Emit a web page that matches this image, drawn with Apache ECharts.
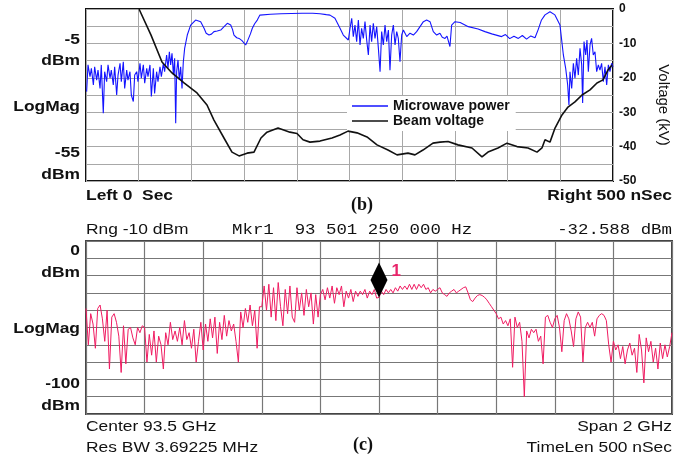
<!DOCTYPE html>
<html>
<head>
<meta charset="utf-8">
<script src="https://cdn.jsdelivr.net/npm/echarts@6/dist/echarts.min.js"></script>
<style>
html, body { margin: 0; padding: 0; background: #fff; }
#main { width: 697px; height: 463px; }
</style>
</head>
<body>
<div id="main"></div>
<script>
// panel (b): time in nSec, microwave power in dBm, beam voltage in kV
var microwavePower = [
  [0.6,-28.0],[1.9,-16.2],[3.8,-21.4],[5.1,-17.7],[7.0,-25.1],[8.2,-17.0],[10.1,-22.9],[11.4,-18.5],[13.3,-26.6],[14.5,-16.2],
  [16.4,-37.6],[17.7,-19.2],[19.6,-23.6],[20.9,-16.2],[22.8,-22.1],[24.0,-18.5],[25.9,-25.1],[27.2,-17.0],[29.1,-29.5],[30.4,-20.7],
  [32.3,-15.5],[33.5,-23.6],[35.4,-14.8],[36.7,-26.6],[38.6,-18.5],[39.8,-22.9],[41.7,-19.2],[43.0,-29.5],[44.9,-32.4],[46.2,-20.7],
  [48.1,-19.2],[49.3,-23.6],[51.2,-15.5],[52.5,-22.1],[54.4,-16.2],[55.7,-24.3],[57.6,-17.7],[58.8,-21.4],[60.7,-16.2],[62.0,-30.2],
  [63.9,-17.7],[65.1,-28.8],[67.0,-19.2],[68.3,-23.6],[70.2,-17.0],[71.5,-21.4],[73.4,-15.5],[74.6,-19.2],[76.5,-11.8],[77.8,-17.7],
  [79.1,-10.4],[80.3,-16.2],[81.6,-11.1],[82.9,-20.7],[84.1,-13.3],[85.1,-42.0],[86.0,-19.2],[87.3,-14.0],[88.5,-22.9],[89.8,-17.0],
  [91.1,-26.6],[92.3,-15.0],[93.6,-8.9],[96.1,-3.0],[99.3,1.4],[104.0,3.6],[108.8,2.9],[112.0,0],[114.0,-2.2],[116.7,-3.0],
  [119.0,-2.6],[121.4,-1.5],[124.5,-1.2],[127.8,-0.8],[131.0,0.7],[134.1,2.2],[137.3,1.4],[139.0,-0.5],[140.4,-3.0],[143.0,-4.2],
  [145.2,-4.5],[148.0,-5.5],[151.5,-7.4],[153.0,-5.9],[154.6,-5.2],[156.0,-2.5],[157.8,0],[160.0,2.0],[162.5,3.6],[165.0,5.8],
  [175.0,6.2],[185.0,6.4],[195.0,6.5],[205.0,6.6],[215.0,6.6],[222.0,6.4],[228.0,6.0],[231.5,5.8],[236.2,4.4],[241.0,0],
  [244.1,-3.0],[248.9,-5.2],[250.5,0],[252.1,4.4],[253.6,-3.7],[255.2,1.4],[256.8,-5.9],[258.4,3.6],[260.0,-7.4],[261.5,0],
  [263.1,-4.5],[264.7,2.9],[266.3,-5.2],[267.9,-11.8],[269.5,1.4],[271.0,-5.9],[272.6,2.2],[274.2,-4.5],[275.8,0.7],[277.4,-8.9],
  [279.0,-19.2],[280.5,-1.5],[282.1,-7.4],[283.7,1.4],[285.3,-5.9],[286.9,-0.8],[288.4,-18.5],[290.0,-3.0],[291.6,1.4],[293.2,-7.4],
  [294.8,-1.5],[296.3,-4.5],[297.9,-14.8],[299.5,-3.0],[301.1,-0.8],[304.3,-3.7],[307.4,-2.2],[310.6,-3.0],[313.7,-1.5],[316.9,0.7],
  [320.1,2.9],[323.2,3.6],[326.4,2.9],[329.5,-1.5],[332.7,-3.0],[335.8,-2.2],[338.0,-4.0],[340.6,-4.5],[342.5,-3.5],[345.3,-8.1],
  [346.9,1.4],[350.1,2.9],[355.0,2.5],[362.7,0.7],[372.0,-0.3],[378.5,-1.5],[385.0,-2.5],[394.3,-3.7],[398.0,-2.8],[402.0,-4.6],
  [406.0,-3.5],[410.2,-4.5],[414.0,-3.2],[418.0,-4.8],[422.0,-3.4],[426.0,-4.2],[429.1,-0.5],[432.0,3.5],[435.5,5.9],[440.2,7.3],
  [444.9,5.9],[449.7,1.4],[452.9,-11.8],[455.1,-17.7],[457.0,-25.1],[458.2,-33.9],[459.2,-19.2],[460.8,-26.6],[462.4,-15.5],[463.9,-22.1],
  [465.5,-13.3],[467.1,-20.7],[468.7,-8.9],[470.3,-16.2],[471.2,-33.0],[472.5,-5.9],[474.1,-11.8],[475.3,-5.2],[476.6,-19.2],[478.2,-7.4],
  [479.7,-4.5],[481.3,-11.8],[482.9,-10.4],[484.5,-19.2],[486.1,-16.2],[487.6,-18.5],[489.2,-15.5],[490.8,-23.6],[492.4,-17.0],[494.0,-25.1],
  [495.6,-16.2],[497.1,-19.2],[498.7,-15.5],[500.0,-17.0]
];

var beamVoltage = [
  [50.3,0],[61.7,-7.6],[72.1,-15.4],[81.6,-18.6],[93.0,-21.5],[105.3,-24.4],[114.8,-27.9],[121.4,-32.3],[130.9,-37.5],[138.5,-41.6],
  [145.2,-42.7],[152.8,-41.9],[159.4,-41.6],[166.0,-37.5],[171.7,-35.8],[182.2,-34.6],[193.5,-35.8],[200.2,-36.2],[205.9,-38.0],[212.5,-38.7],
  [222.0,-38.4],[233.4,-37.5],[241.0,-36.6],[248.6,-35.5],[257.1,-36.0],[266.6,-37.2],[276.1,-39.5],[286.5,-41.0],[295.1,-42.4],[305.5,-41.9],
  [312.1,-42.4],[319.7,-41.0],[329.2,-39.0],[335.9,-38.7],[343.5,-38.5],[352.9,-39.5],[366.2,-40.4],[375.7,-43.0],[381.4,-41.6],[390.9,-40.4],
  [399.4,-39.0],[408.9,-40.0],[419.4,-40.4],[427.9,-41.6],[432.6,-40.4],[435.5,-38.0],[440.2,-38.7],[445.0,-34.6],[451.6,-30.8],[457.3,-28.5],
  [463.9,-27.0],[470.6,-25.0],[478.2,-23.5],[484.8,-21.5],[490.5,-20.6],[495.3,-17.7],[499.1,-16.3]
];

// panel (c): spectrum trace, 251 points over 92.5 .. 94.5 GHz (dBm)
var spectrum = [
  -39,-60,-42,-48,-62,-39,-37,-45,-58,-40,-74,-44,-42,-47,-55,-76,-49,-71,-51,-50,-56,-60,-50,-53,-49,
  -50,-70,-54,-66,-52,-70,-55,-60,-74,-53,-60,-47,-57,-52,-58,-50,-60,-46,-57,-53,-62,-51,-70,-58,-47,
  -63,-48,-58,-45,-56,-44,-65,-47,-57,-43,-55,-46,-52,-48,-58,-70,-41,-50,-39,-47,-37,-49,-40,-62,-38,
  -38,-26,-40,-25,-44,-27,-46,-24,-38,-49,-28,-42,-26,-44,-47,-27,-40,-30,-43,-28,-38,-30,-48,-31,-44,
  -31,-28,-34,-27,-33,-26,-36,-27,-31,-26,-38,-29,-33,-28,-35,-29,-32,-29,-31,-28,-33,-29,-31,-28,-33,
  -32.6,-29,-31,-28,-30,-28,-30,-27,-29,-26,-28,-26,-28,-25,-28,-25,-28,-25,-27,-25,-28,-27,-30,-28,-29,
  -28,-27,-30,-31,-32,-30,-29,-28,-30,-29,-28,-27,-26.5,-30,-34,-35,-33,-31.5,-31,-31.5,-32.5,-34,-36,-38,-40,
  -42,-45,-44,-48,-46,-49,-45,-73,-44,-50,-47,-58,-90,-52,-56,-51,-53,-51,-58,-55,-71,-44,-43,-47,-50,
  -45,-43,-50,-64,-46,-42,-45,-52,-61,-45,-41,-44,-70,-50,-47,-50,-47,-55,-45,-43,-42,-43,-46,-60,-70,
  -58,-63,-60,-68,-61,-71,-63,-59,-66,-62,-76,-54,-63,-82,-56,-64,-58,-70,-62,-74,-59,-68,-60,-67,-61,-53
];
var markerIndex = 125;
var markerValue = -32.588;

var topLeftLabels = ['-5', 'dBm', 'LogMag', '-55', 'dBm'];
var bottomLeftLabels = ['0', 'dBm', 'LogMag', '-100', 'dBm'];
var seriesNames = ['Microwave power', 'Beam voltage'];

var FONT = "'Liberation Sans', Arial, sans-serif";
var MONO = "'Liberation Mono', 'DejaVu Sans Mono', monospace";
var SERIF = "'Liberation Serif', 'DejaVu Serif', serif";

function txt(s, x, y, o) {
  o = o || {};
  return {
    type: 'text', x: x, y: y, z: 100,
    scaleX: o.scale == null ? 1.16 : o.scale,
    rotation: o.rot || 0,
    style: {
      text: s, fill: o.color || '#111',
      align: o.align || 'left', verticalAlign: 'middle',
      font: (o.weight || 'normal') + ' ' + (o.size || 15) + 'px ' + (o.family || FONT)
    }
  };
}

var graphics = [];
var topY = [40, 61, 107, 153, 175];
topLeftLabels.forEach(function (s, i) { graphics.push(txt(s, 80, topY[i], {align: 'right', weight: 'bold'})); });
var botY = [251, 273, 329, 384, 406];
bottomLeftLabels.forEach(function (s, i) { graphics.push(txt(s, 80, botY[i], {align: 'right', weight: 'bold'})); });

graphics.push(txt('Left 0  Sec', 86, 196, {weight: 'bold'}));
graphics.push(txt('Right 500 nSec', 672, 196, {weight: 'bold', align: 'right'}));
graphics.push(txt('(b)', 362, 205, {weight: 'bold', align: 'center', family: SERIF, size: 18, scale: 1}));
graphics.push(txt('Voltage (kV)', 663, 105, {align: 'center', rot: -Math.PI / 2, scale: 1}));

graphics.push(txt('Rng -10 dBm', 86, 230));
graphics.push(txt('Mkr1  93 501 250 000 Hz', 232, 230, {family: MONO}));
graphics.push(txt('-32.588 dBm', 672, 230, {family: MONO, align: 'right'}));
graphics.push(txt('Center 93.5 GHz', 86, 427));
graphics.push(txt('Res BW 3.69225 MHz', 86, 448));
graphics.push(txt('Span 2 GHz', 672, 427, {align: 'right'}));
graphics.push(txt('TimeLen 500 nSec', 672, 448, {align: 'right'}));
graphics.push(txt('(c)', 363, 445, {weight: 'bold', align: 'center', family: SERIF, size: 18, scale: 1}));

var chart = echarts.init(document.getElementById('main'));
var option = {
  animation: false,
  backgroundColor: '#fff',
  textStyle: { fontFamily: FONT },
  grid: [
    { left: 86, top: 9, width: 527, height: 172, show: true, borderColor: '#111', borderWidth: 2, outerBoundsMode: 'none' },
    { left: 86, top: 241, width: 586, height: 173, show: true, borderColor: '#444', borderWidth: 2, outerBoundsMode: 'none' }
  ],
  legend: {
    data: seriesNames, orient: 'vertical', left: 347, top: 96,
    icon: 'rect', itemWidth: 36, itemHeight: 1.5, itemGap: 1,
    padding: [3, 6, 3, 5], backgroundColor: '#fff',
    selectedMode: false,
    textStyle: { fontFamily: FONT, fontWeight: 'bold', fontSize: 14, color: '#111' }
  },
  xAxis: [
    { type: 'value', gridIndex: 0, min: 0, max: 500, interval: 50,
      axisLabel: { show: false }, axisTick: { show: false }, axisLine: { show: false },
      splitLine: { lineStyle: { color: '#a8a8a8', width: 1 } } },
    { type: 'value', gridIndex: 1, min: 0, max: 250, interval: 25,
      axisLabel: { show: false }, axisTick: { show: false }, axisLine: { show: false },
      splitLine: { lineStyle: { color: '#777', width: 1.2 } } }
  ],
  yAxis: [
    { type: 'value', gridIndex: 0, min: -67.5, max: 8.5, show: false },
    { type: 'value', gridIndex: 0, position: 'right', min: -50, max: 0, interval: 5,
      axisLine: { show: false }, axisTick: { show: false },
      axisLabel: { margin: 6, color: '#111', fontWeight: 'bold', fontSize: 12, fontFamily: FONT,
        formatter: function (v) { return v % 10 === 0 ? String(v) : ''; } },
      splitLine: { lineStyle: { color: '#a8a8a8', width: 1 } } },
    { type: 'value', gridIndex: 1, min: -100, max: 0, interval: 10,
      axisLabel: { show: false }, axisTick: { show: false }, axisLine: { show: false },
      splitLine: { lineStyle: { color: '#777', width: 1.2 } } }
  ],
  series: [
    { name: seriesNames[0], type: 'line', xAxisIndex: 0, yAxisIndex: 0, data: microwavePower,
      symbol: 'none', color: '#1414ff', lineStyle: { color: '#1414ff', width: 1.1 }, z: 3 },
    { name: seriesNames[1], type: 'line', xAxisIndex: 0, yAxisIndex: 1, data: beamVoltage,
      symbol: 'none', color: '#111', lineStyle: { color: '#111', width: 1.6 }, z: 4 },
    { name: 'Spectrum', type: 'line', xAxisIndex: 1, yAxisIndex: 2,
      data: spectrum.map(function (v, i) { return [i, v]; }),
      symbol: 'none', color: '#f01c62', lineStyle: { color: '#f01c62', width: 1 },
      markPoint: {
        symbol: 'diamond', symbolSize: [17, 35], symbolOffset: [0, '-50%'],
        itemStyle: { color: '#000' },
        label: { show: true, formatter: '1', position: 'right', distance: 4, offset: [0, -9],
          color: '#e8246a', fontWeight: 'bold', fontSize: 17, fontFamily: FONT },
        data: [{ coord: [markerIndex, markerValue] }]
      } }
  ],
  graphic: graphics
};
chart.setOption(option);
</script>
</body>
</html>
